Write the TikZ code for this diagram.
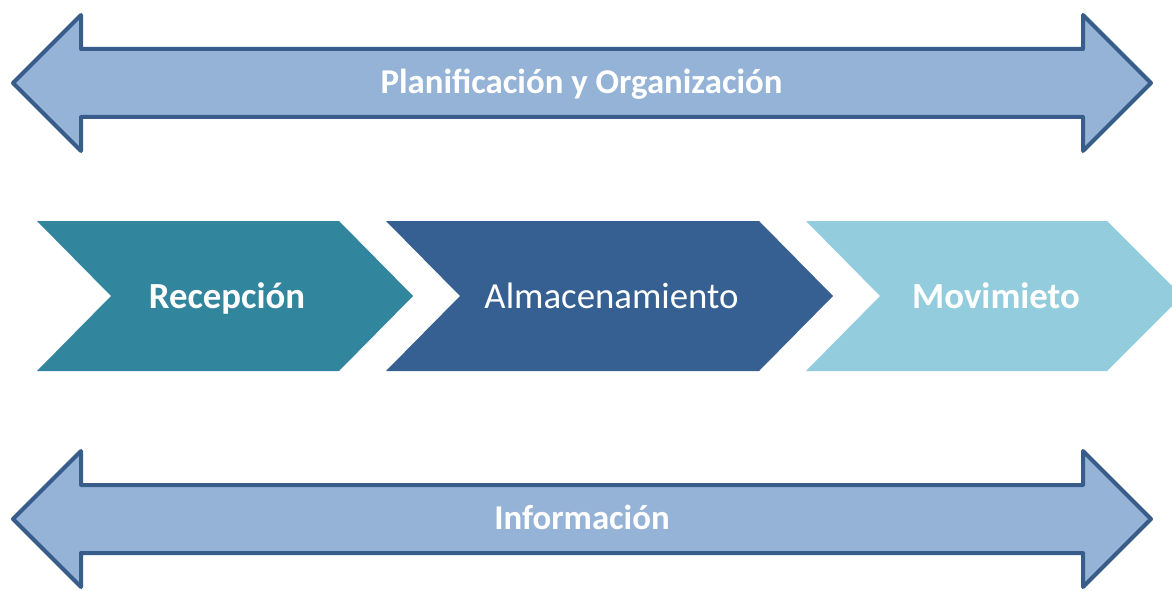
\documentclass[tikz,border=0pt]{standalone}
\usepackage{fontspec}
\setmainfont{Carlito}
\definecolor{arrowfill}{HTML}{95B3D7}
\definecolor{arrowline}{HTML}{385D8A}
\definecolor{recfill}{HTML}{31859C}
\definecolor{almfill}{HTML}{366092}
\definecolor{movfill}{HTML}{93CDDD}
\tikzset{
  bigarrow/.style={fill=arrowfill, draw=arrowline, line width=4pt, line join=round},
  bandtext/.style={text=white, font=\fontsize{34.8}{40}\selectfont\bfseries, anchor=base, inner sep=0pt},
  chevtext/.style={text=white, font=\fontsize{36.8}{44}\selectfont, anchor=base, inner sep=0pt},
  chevbold/.style={chevtext, font=\fontsize{36.8}{44}\selectfont\bfseries}
}
\begin{document}
\begin{tikzpicture}[x=1pt,y=-1pt]
\useasboundingbox (0,0) rectangle (1172,591);
% top double arrow
\draw[bigarrow] (13,83) -- (81,15) -- (81,49) -- (1083,49) -- (1083,15) -- (1151,83) -- (1083,151) -- (1083,117) -- (81,117) -- (81,151) -- cycle;
\node[bandtext] (plan) at (581.5,94) {Planificación y Organización};
% chevrons
\fill[recfill] (37,221) -- (339,221) -- (413,296) -- (339,371) -- (37,371) -- (111,296) -- cycle;
\fill[almfill] (386,221) -- (759,221) -- (833,296) -- (759,371) -- (386,371) -- (460,296) -- cycle;
\fill[movfill] (806,221) -- (1107,221) -- (1182,296) -- (1107,371) -- (806,371) -- (880,296) -- cycle;
\node[chevbold] (rec) at (227,308) {Recepción};
\node[chevtext] (alm) at (611.5,308) {Almacenamiento};
\node[chevbold] (mov) at (996,308) {Movimieto};
% bottom double arrow
\draw[bigarrow] (13,519) -- (81,451) -- (81,485) -- (1083,485) -- (1083,451) -- (1151,519) -- (1083,587) -- (1083,553) -- (81,553) -- (81,587) -- cycle;
\node[bandtext] (info) at (582,529) {Información};
\end{tikzpicture}
\end{document}
